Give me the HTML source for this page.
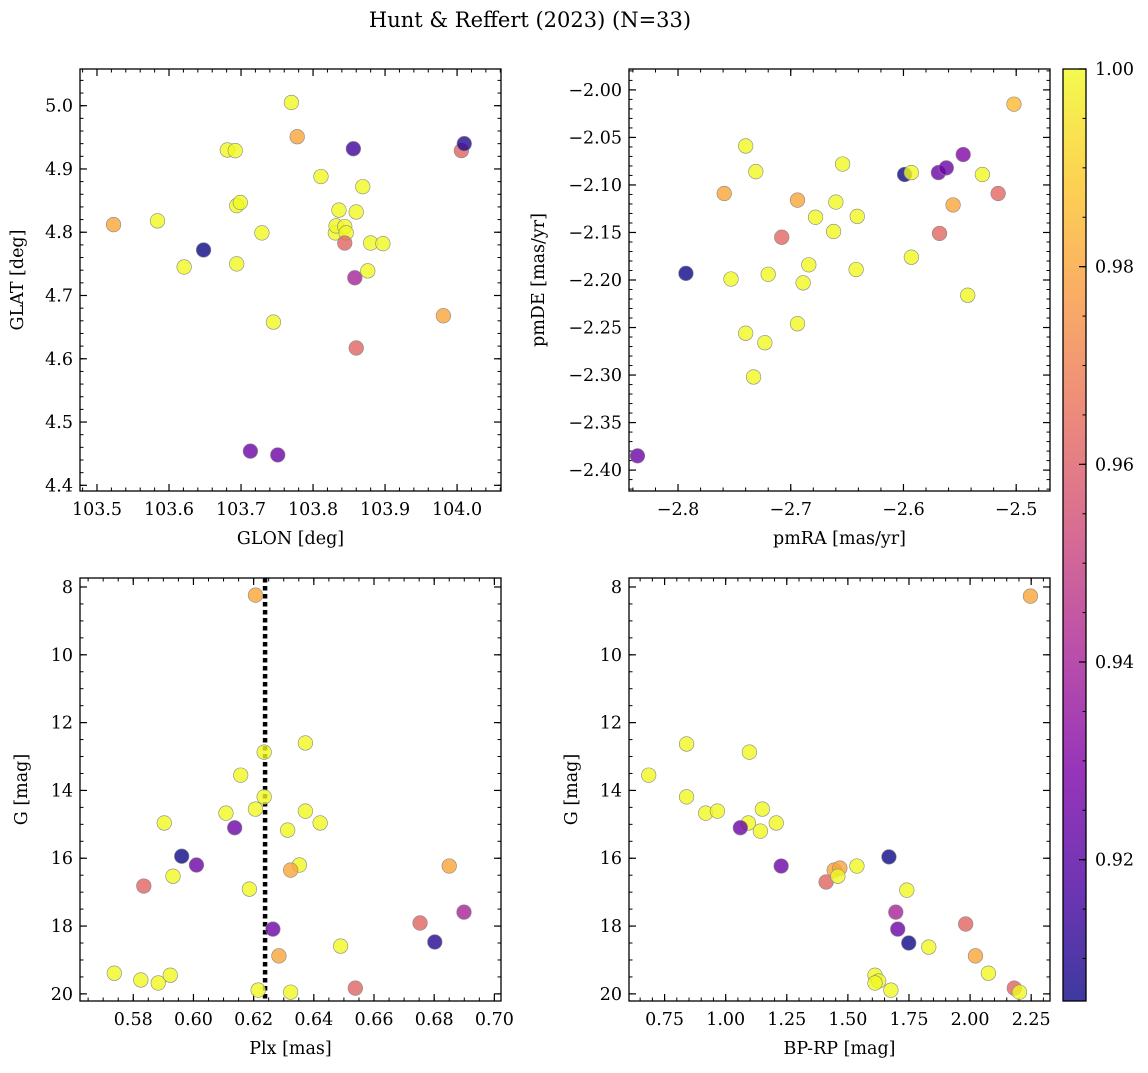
<!DOCTYPE html>
<html><head><meta charset="utf-8">
<style>
body{margin:0;background:#fff;}
svg text{font-family:"DejaVu Serif","Liberation Serif",serif;fill:#000;}
</style></head>
<body>
<svg id="fig" width="1148" height="1068" xmlns="http://www.w3.org/2000/svg">
<defs>
<linearGradient id="cbgrad" x1="0" y1="1" x2="0" y2="0">
<stop offset="0" stop-color="#0d0887"/><stop offset="0.125" stop-color="#4c02a1"/>
<stop offset="0.25" stop-color="#7e03a8"/><stop offset="0.375" stop-color="#a92395"/>
<stop offset="0.5" stop-color="#cc4778"/><stop offset="0.625" stop-color="#e66c5c"/>
<stop offset="0.75" stop-color="#f89540"/><stop offset="0.875" stop-color="#fdc527"/>
<stop offset="1" stop-color="#f0f921"/></linearGradient>
</defs>
<text x="530" y="27" text-anchor="middle" font-size="21">Hunt &amp; Reffert (2023) (N=33)</text>
</svg>
<script>
// ---- data ----
const glon=[103.523,103.584,103.621,103.648,103.681,103.692,103.694,103.699,103.694,103.729,103.713,103.745,103.751,103.770,103.778,103.811,103.831,103.836,103.832,103.844,103.846,103.844,103.856,103.860,103.858,103.860,103.869,103.876,103.880,103.897,103.981,104.006,104.010];
const glat=[4.812,4.818,4.745,4.772,4.930,4.929,4.842,4.847,4.750,4.799,4.454,4.658,4.448,5.005,4.951,4.888,4.799,4.835,4.810,4.809,4.799,4.783,4.932,4.832,4.728,4.617,4.872,4.739,4.783,4.782,4.668,4.929,4.940];
const probA=[0.98,1,1,0.905,1,1,1,1,1,1,0.925,1,0.925,1,0.98,1,1,1,1,1,1,0.962,0.915,1,0.94,0.962,1,1,1,1,0.98,0.962,0.91];
const pmra=[-2.836,-2.793,-2.759,-2.753,-2.740,-2.731,-2.740,-2.733,-2.723,-2.720,-2.708,-2.694,-2.694,-2.689,-2.684,-2.678,-2.654,-2.660,-2.662,-2.641,-2.642,-2.599,-2.593,-2.593,-2.569,-2.562,-2.568,-2.556,-2.547,-2.543,-2.530,-2.516,-2.502];
const pmde=[-2.385,-2.193,-2.109,-2.199,-2.059,-2.086,-2.256,-2.302,-2.266,-2.194,-2.155,-2.116,-2.246,-2.203,-2.184,-2.134,-2.078,-2.118,-2.149,-2.133,-2.189,-2.089,-2.087,-2.176,-2.087,-2.082,-2.151,-2.121,-2.068,-2.216,-2.089,-2.109,-2.015];
const probB=[0.925,0.905,0.98,1,1,1,1,1,1,1,0.963,0.98,1,1,1,1,1,1,1,1,1,0.905,1,1,0.925,0.925,0.963,0.98,0.93,1,1,0.963,0.985];
const plx=[0.6206,0.6235,0.6372,0.6157,0.6235,0.6108,0.6206,0.6372,0.6421,0.5903,0.6137,0.6313,0.5961,0.6010,0.6352,0.6323,0.5932,0.6850,0.5835,0.6186,0.6753,0.6899,0.6264,0.6802,0.6489,0.6284,0.5737,0.5825,0.5883,0.5923,0.6215,0.6323,0.6538];
const gC=[8.24,12.87,12.60,13.55,14.19,14.67,14.55,14.61,14.96,14.96,15.10,15.17,15.94,16.20,16.20,16.35,16.53,16.23,16.82,16.91,17.91,17.59,18.09,18.47,18.59,18.88,19.39,19.59,19.68,19.45,19.89,19.95,19.83];
const probC=[0.98,1,1,1,1,1,1,1,1,1,0.925,1,0.905,0.925,1,0.98,1,0.98,0.962,1,0.962,0.94,0.925,0.91,1,0.98,1,1,1,1,1,1,0.962];
const bprp=[2.247,0.685,0.840,0.840,0.918,0.966,1.097,1.093,1.150,1.142,1.207,1.060,1.227,1.411,1.444,1.467,1.459,1.537,1.668,1.741,1.696,1.704,1.749,1.831,1.982,2.022,2.075,1.611,1.626,1.611,1.676,2.181,2.202];
const gD=[8.27,13.55,12.63,14.19,14.67,14.61,12.87,14.96,14.55,15.20,14.96,15.10,16.23,16.70,16.35,16.29,16.53,16.23,15.96,16.94,17.59,18.09,18.50,18.62,17.94,18.88,19.39,19.45,19.62,19.68,19.89,19.83,19.95];
const probD=[0.98,1,1,1,1,1,1,1,1,1,1,0.925,0.925,0.962,0.98,0.98,1,1,0.905,1,0.94,0.925,0.905,1,0.962,0.98,1,1,1,1,1,0.962,1];
const plxLine=0.6238;
const cbTicks=[0.92,0.94,0.96,0.98,1.00];
const cmin=0.9057,cmax=1.0;

const NS="http://www.w3.org/2000/svg";
const svg=document.getElementById('fig');
function mk(tag,attrs,parent){const e=document.createElementNS(NS,tag);for(const k in attrs)e.setAttribute(k,attrs[k]);(parent||svg).appendChild(e);return e;}
const stops=[[0,[13,8,135]],[0.125,[76,2,161]],[0.25,[126,3,168]],[0.375,[169,35,149]],[0.5,[204,71,120]],[0.625,[230,108,92]],[0.75,[248,149,64]],[0.875,[253,197,39]],[1,[240,249,33]]];
function plasma(t){t=Math.max(0,Math.min(1,t));for(let i=1;i<stops.length;i++){if(t<=stops[i][0]){const a=stops[i-1],b=stops[i];const f=(t-a[0])/(b[0]-a[0]);const c=a[1].map((v,j)=>Math.round(v+(b[1][j]-v)*f));return `rgb(${c})`;}}return 'rgb(240,249,33)';}
function fmt(v,d){const s=Math.abs(v).toFixed(d);return (v<-1e-9?'\u2212':'')+s;}

function panel(o){
  const g=mk('g',{});
  
  
  const {L,T,R,B}=o;
  const sx=v=>L+(v-o.x0)/(o.x1-o.x0)*(R-L);
  const sy=v=>o.yinv? T+(v-o.y0)/(o.y1-o.y0)*(B-T) : B-(v-o.y0)/(o.y1-o.y0)*(B-T);
  const eps=1e-9;
  function ticks(lo,hi,step){const a=Math.min(lo,hi),b=Math.max(lo,hi);const out=[];for(let k=Math.ceil(a/step-eps);k*step<=b+eps;k++)out.push(k*step);return out;}
  ticks(o.x0,o.x1,o.xmin).forEach(v=>{const x=sx(v);mk('line',{x1:x,y1:B,x2:x,y2:B-3.5,stroke:'#000','stroke-width':1},g);mk('line',{x1:x,y1:T,x2:x,y2:T+3.5,stroke:'#000','stroke-width':1},g);});
  ticks(o.y0,o.y1,o.ymin).forEach(v=>{const y=sy(v);mk('line',{x1:L,y1:y,x2:L+3.5,y2:y,stroke:'#000','stroke-width':1},g);mk('line',{x1:R,y1:y,x2:R-3.5,y2:y,stroke:'#000','stroke-width':1},g);});
  ticks(o.x0,o.x1,o.xmaj).forEach(v=>{const x=sx(v);mk('line',{x1:x,y1:B,x2:x,y2:B-7,stroke:'#000','stroke-width':1.2},g);mk('line',{x1:x,y1:T,x2:x,y2:T+7,stroke:'#000','stroke-width':1.2},g);
    const t=mk('text',{x:x,y:B+24,'text-anchor':'middle','font-size':17.5},g);t.textContent=fmt(v,o.xd);});
  ticks(o.y0,o.y1,o.ymaj).forEach(v=>{const y=sy(v);mk('line',{x1:L,y1:y,x2:L+7,y2:y,stroke:'#000','stroke-width':1.2},g);mk('line',{x1:R,y1:y,x2:R-7,y2:y,stroke:'#000','stroke-width':1.2},g);
    const t=mk('text',{x:L-7,y:y+6,'text-anchor':'end','font-size':17.5},g);t.textContent=fmt(v,o.yd);});
  if(o.vline!==undefined){const x=sx(o.vline);const l=mk('line',{x1:x,y1:T,x2:x,y2:B,stroke:'#000','stroke-width':4.5,'stroke-dasharray':'4.5,3.5'},g);}
  o.xs.forEach((xv,i)=>{const c=mk('circle',{cx:sx(xv),cy:sy(o.ys[i]),r:7.3,fill:plasma((o.cs[i]-cmin)/(cmax-cmin)),'fill-opacity':0.8,stroke:'#888','stroke-width':0.6},g);
    
    });
  mk('rect',{x:L,y:T,width:R-L,height:B-T,fill:'none',stroke:'#000','stroke-width':1.3},g);
  const xl=mk('text',{x:(L+R)/2,y:B+53,'text-anchor':'middle','font-size':17.5},g);xl.textContent=o.xlabel;
  
  const yl=mk('text',{x:0,y:0,'text-anchor':'middle','font-size':17.5,transform:`translate(${o.ylx},${(T+B)/2}) rotate(-90)`},g);yl.textContent=o.ylabel;
  
}
panel({name:'glon-glat-panel',L:80,T:69,R:501,B:491,x0:103.4764,x1:104.061,y0:4.391,y1:5.058,xmaj:0.1,xmin:0.02,ymaj:0.1,ymin:0.02,xd:1,yd:1,xs:glon,ys:glat,cs:probA,xlabel:'GLON [deg]',ylabel:'GLAT [deg]',ylx:23});
panel({name:'proper-motion-panel',L:629,T:69,R:1050,B:491,x0:-2.8435,x1:-2.470,y0:-2.422,y1:-1.978,xmaj:0.1,xmin:0.02,ymaj:0.05,ymin:0.01,xd:1,yd:2,xs:pmra,ys:pmde,cs:probB,xlabel:'pmRA [mas/yr]',ylabel:'pmDE [mas/yr]',ylx:544});
panel({name:'parallax-g-panel',L:80,T:578,R:501,B:1001,x0:0.5623,x1:0.7022,y0:7.735,y1:20.21,yinv:true,xmaj:0.02,xmin:0.005,ymaj:2,ymin:0.5,xd:2,yd:0,xs:plx,ys:gC,cs:probC,xlabel:'Plx [mas]',ylabel:'G [mag]',ylx:27,vline:plxLine});
panel({name:'cmd-panel',L:629,T:578,R:1050,B:1001,x0:0.6044,x1:2.327,y0:7.735,y1:20.21,yinv:true,xmaj:0.25,xmin:0.05,ymaj:2,ymin:0.5,xd:2,yd:0,xs:bprp,ys:gD,cs:probD,xlabel:'BP-RP [mag]',ylabel:'G [mag]',ylx:577});
// colorbar
const cb=mk('g',{});


const cT=69,cB=1001,cL=1063,cR=1086;
mk('rect',{x:cL,y:cT,width:cR-cL,height:cB-cT,fill:'url(#cbgrad)','fill-opacity':0.8},cb);
mk('rect',{x:cL,y:cT,width:cR-cL,height:cB-cT,fill:'none',stroke:'#000','stroke-width':1.3},cb);
const cy=v=>cB-(v-cmin)/(cmax-cmin)*(cB-cT);
for(let k=182;k<=200;k++){const v=k*0.005;const y=cy(v);if(y<cT-0.5||y>cB)continue;mk('line',{x1:cR,y1:y,x2:cR-3.5,y2:y,stroke:'#000','stroke-width':1},cb);}
cbTicks.forEach(v=>{const y=cy(v);mk('line',{x1:cR,y1:y,x2:cR-7,y2:y,stroke:'#000','stroke-width':1.2},cb);
  const t=mk('text',{x:cR+9,y:y+6,'font-size':17.5},cb);t.textContent=v.toFixed(2);
  });
</script>
</body></html>
